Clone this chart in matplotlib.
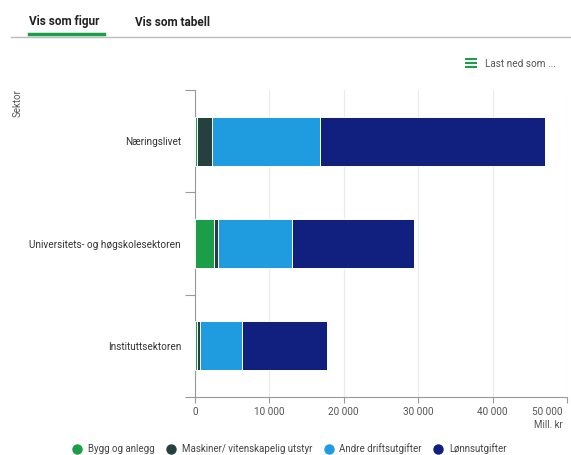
import matplotlib
matplotlib.use("Agg")
import matplotlib.pyplot as plt
from matplotlib.lines import Line2D
from matplotlib.ticker import FuncFormatter, FixedLocator
import matplotlib.transforms as mtransforms
import numpy as np

plt.rcParams['font.family'] = ['Roboto', 'DejaVu Sans']

categories = ["Næringslivet", "Universitets- og høgskolesektoren", "Instituttsektoren"]
series_names = ["Bygg og anlegg", "Maskiner/ vitenskapelig utstyr", "Andre driftsutgifter", "Lønnsutgifter"]
bygg = [300, 2500, 250]
maskiner = [2000, 600, 450]
andre = [14500, 10000, 5600]
lonn = [30300, 16400, 11500]
colors = ["#1c9d48", "#26403f", "#1f9be0", "#111f7e"]
x_ticks = [0, 10000, 20000, 30000, 40000, 50000]

W, H = 571, 455
fig = plt.figure(figsize=(W / 100, H / 100), dpi=100)
ax = fig.add_axes([195 / W, 1 - 397 / H, (567 - 195) / W, (397 - 90) / H])

y = np.arange(len(categories))
left = np.zeros(len(categories))
for vals, col, name in zip([bygg, maskiner, andre, lonn], colors, series_names):
    ax.barh(y, vals, left=left, height=0.48, color=col, edgecolor="white", linewidth=0.7, label=name, zorder=3)
    left = left + np.array(vals)

ax.set_ylim(len(categories) - 0.5, -0.5)
ax.set_xlim(0, 50000)
ax.set_yticks(y)
ax.set_yticklabels(categories, fontsize=7.2, color="#333333")
ax.yaxis.set_minor_locator(FixedLocator(np.arange(-0.5, len(categories), 1)))
ax.tick_params(axis="y", which="major", length=0, pad=10)
ax.tick_params(axis="y", which="minor", length=7, width=0.8, color="#999999")
ax.set_xticks(x_ticks)
ax.xaxis.set_major_formatter(FuncFormatter(lambda v, p: f"{int(v):,}".replace(",", " ")))
ax.tick_params(axis="x", length=4, width=0.8, color="#999999", labelsize=7.2, labelcolor="#555555", pad=3)
ax.grid(axis="x", color="#ebebeb", linewidth=0.8, zorder=0)
for s in ["top", "right"]:
    ax.spines[s].set_visible(False)
ax.spines["left"].set_color("#999999")
ax.spines["bottom"].set_color("#999999")
ax.spines["left"].set_linewidth(0.8)
ax.spines["bottom"].set_linewidth(0.8)

# keep the last x label inside the figure
last = ax.get_xticklabels()[-1]
last.set_horizontalalignment("right")
last.set_transform(last.get_transform() + mtransforms.ScaledTranslation(-4 / 100, 0, fig.dpi_scale_trans))

# axis titles
fig.text(18 / W, 1 - 103 / H, "Sektor", rotation=90, ha="center", va="center", fontsize=7, color="#555555")
fig.text(563 / W, 1 - 425 / H, "Mill. kr", ha="right", va="center", fontsize=7, color="#555555")

# legend
handles = [Line2D([0], [0], marker="o", linestyle="", markersize=6.5, markerfacecolor=c, markeredgecolor=c) for c in colors]
leg = fig.legend(handles, series_names, loc="center", bbox_to_anchor=(289 / W, 1 - 449 / H), ncol=4,
                 frameon=False, fontsize=7, handletextpad=0.5, columnspacing=1.1, handlelength=1.2, labelcolor="#444444")

# header
fig.text(29 / W, 1 - 22 / H, "Vis som figur", fontsize=8.5, fontweight="bold", color="#222222", ha="left", va="center")
fig.text(135 / W, 1 - 22 / H, "Vis som tabell", fontsize=8.5, fontweight="bold", color="#222222", ha="left", va="center")
fig.add_artist(Line2D([11 / W, 1], [1 - 37 / H, 1 - 37 / H], transform=fig.transFigure, color="#bbbbbb", linewidth=1))
fig.add_artist(Line2D([29 / W, 104 / W], [1 - 34 / H, 1 - 34 / H], transform=fig.transFigure, color="#1c9d48", linewidth=2.5))
for dy in [-4, 0, 4]:
    fig.add_artist(Line2D([465 / W, 477 / W], [1 - (63 + dy) / H] * 2, transform=fig.transFigure,
                          color="#1c9d48", linewidth=1.5, solid_capstyle="butt"))
fig.text(485 / W, 1 - 64 / H, "Last ned som ...", fontsize=7.2, color="#555555", ha="left", va="center")

fig.savefig("out.png", dpi=100, facecolor="white")
